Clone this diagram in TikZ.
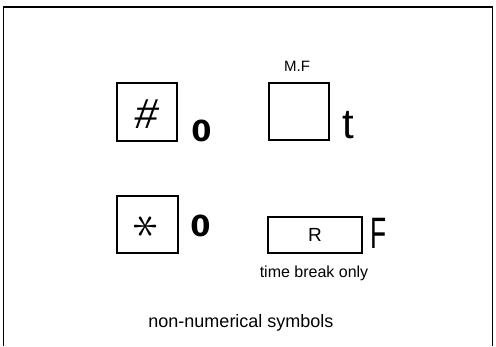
\documentclass[tikz,border=0pt]{standalone}
\usepackage{fontspec}
\setmainfont{Liberation Sans}
\newfontfamily\digitos{DejaVu Sans}

\begin{document}
\begin{tikzpicture}[x=1pt, y=1pt, line width=1.5pt,
  tecla/.style={draw, inner sep=0pt},
  rotulo/.style={inner sep=0pt, anchor=base}]
  \useasboundingbox (0,0) rectangle (496,346);
  % marco (abierto por abajo)
  \draw[line join=miter] (3.5,0) -- (3.5,339) -- (492.5,339) -- (492.5,0);
  % teclas
  \node[tecla, minimum width=60pt, minimum height=58pt] (almohadilla) at (147,234) {};
  \node[inner sep=0pt, xslant=0.15, font=\fontsize{42}{42}\selectfont] (gato) at (147,232) {\#};
  \node[tecla, minimum width=60pt, minimum height=57pt] (mf) at (299,234.5) {};
  \node[tecla, minimum width=61pt, minimum height=57pt] (asterisco) at (147.5,121.5) {};
  \node[rotate=90, scale=5.2, inner sep=0pt] (estrella) at (146,120) {$\ast$};
  \node[tecla, minimum width=94pt, minimum height=36pt] (rellamada) at (315,111)
    {\fontsize{19}{19}\selectfont R};
  % rotulos
  \node[rotulo, font=\fontsize{15}{15}\selectfont] (mftexto) at (297,274) {M.F};
  \node[rotulo, font=\fontsize{16}{16}\selectfont] (soloruptura) at (314,69) {time break only};
  \node[rotulo, font=\fontsize{18}{18}\selectfont] (titulo) at (241,19) {non-numerical symbols};
  % visor de siete segmentos
  \node[rotulo, font=\digitos\bfseries\fontsize{29}{29}\selectfont] (cero1) at (201.5,204) {0};
  \node[rotulo, font=\digitos\bfseries\fontsize{29}{29}\selectfont] (cero2) at (200.5,109) {0};
  \node[rotulo, font=\fontsize{42}{42}\selectfont] (letrat) at (348.5,207) {t};
  \node[rotulo, xscale=0.6, font=\fontsize{44}{44}\selectfont] (letraf) at (378.5,97) {F};
\end{tikzpicture}
\end{document}
